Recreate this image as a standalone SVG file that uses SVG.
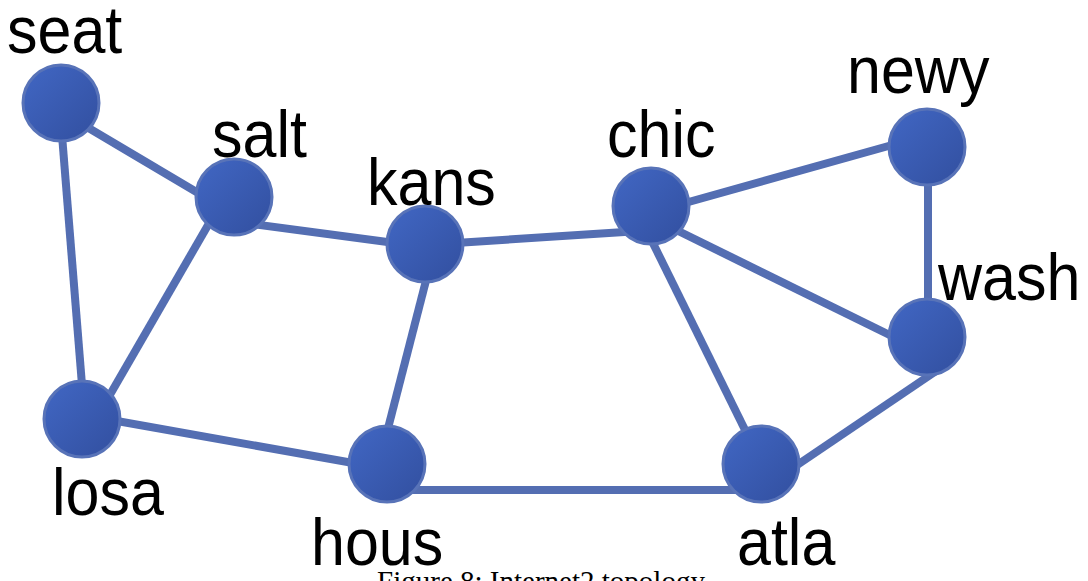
<svg xmlns="http://www.w3.org/2000/svg" width="1088" height="581" viewBox="0 0 1088 581">
<defs>
<linearGradient id="g" x1="0" y1="0" x2="1" y2="1">
<stop offset="0" stop-color="#4167c4"/>
<stop offset="1" stop-color="#324f9f"/>
</linearGradient>
<style>
.e{stroke:#546eb2;stroke-width:8;fill:none}
.n{fill:url(#g);stroke:#5873b8;stroke-width:3}
.l{font-family:"Liberation Sans",Arial,sans-serif;font-size:61px;fill:#000}
.c{font-family:"Liberation Serif","Times New Roman",serif;font-size:29px;fill:#000}
</style>
</defs>
<rect width="1088" height="581" fill="#fff"/>
<g id="edges">
<line class="e" x1="70" y1="117" x2="210" y2="200"/>
<line class="e" x1="60" y1="110" x2="84" y2="410"/>
<line class="e" x1="215" y1="213" x2="100" y2="412"/>
<line class="e" x1="245" y1="223" x2="410" y2="245"/>
<line class="e" x1="440" y1="244" x2="640" y2="231"/>
<line class="e" x1="100" y1="418" x2="370" y2="466"/>
<line class="e" x1="430" y1="265" x2="385" y2="440"/>
<line class="e" x1="660" y1="210" x2="910" y2="140"/>
<line class="e" x1="928" y1="160" x2="928" y2="320"/>
<line class="e" x1="660" y1="222" x2="910" y2="345"/>
<line class="e" x1="645" y1="227" x2="750" y2="440"/>
<line class="e" x1="775" y1="480" x2="945" y2="365"/>
<line class="e" x1="400" y1="490" x2="750" y2="490"/>
</g>
<g id="seat"><circle class="n" cx="61" cy="103" r="38"/><text class="l" transform="translate(7,53) scale(1,1.1)">seat</text></g>
<g id="salt"><circle class="n" cx="234" cy="197" r="38"/><text class="l" transform="translate(212,157) scale(1,1.1)">salt</text></g>
<g id="kans"><circle class="n" cx="425" cy="244" r="38"/><text class="l" transform="translate(367,205) scale(1,1.1)">kans</text></g>
<g id="chic"><circle class="n" cx="651" cy="206" r="38"/><text class="l" transform="translate(607,157) scale(1,1.1)">chic</text></g>
<g id="newy"><circle class="n" cx="927" cy="147" r="38"/><text class="l" transform="translate(847,93) scale(1,1.1)">newy</text></g>
<g id="wash"><circle class="n" cx="927" cy="337" r="38"/><text class="l" transform="translate(938,300) scale(1,1.1)">wash</text></g>
<g id="losa"><circle class="n" cx="82" cy="419" r="38"/><text class="l" transform="translate(52,515) scale(1,1.1)">losa</text></g>
<g id="hous"><circle class="n" cx="387" cy="464" r="38"/><text class="l" transform="translate(311,565) scale(1,1.1)">hous</text></g>
<g id="atla"><circle class="n" cx="761" cy="464" r="38"/><text class="l" transform="translate(737,565) scale(1,1.1)">atla</text></g>
<text class="c" x="541" y="591" text-anchor="middle">Figure 8: Internet2 topology</text>
</svg>
